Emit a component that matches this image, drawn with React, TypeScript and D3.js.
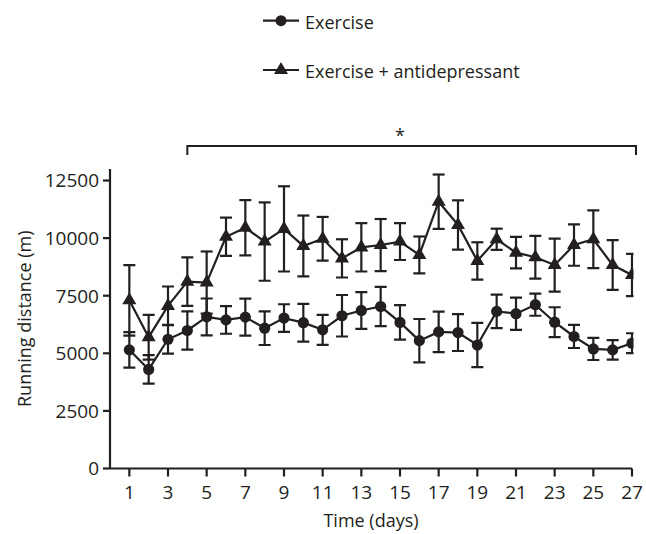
import React from "react";
import * as d3 from "d3";

const days = d3.range(1, 28);
const exerciseMean = [5150, 4300, 5610, 5990, 6580, 6450, 6570, 6090, 6530, 6330, 6020, 6630, 6860, 7030, 6340, 5550, 5930, 5900, 5360, 6820, 6720, 7110, 6350, 5730, 5190, 5150, 5440];
const exerciseErr = [770, 620, 620, 830, 800, 600, 800, 730, 600, 820, 650, 900, 800, 850, 750, 940, 880, 800, 960, 730, 700, 480, 650, 500, 480, 420, 430];
const comboMean = [7300, 5700, 7060, 8110, 8070, 10060, 10450, 9850, 10400, 9660, 9970, 9120, 9600, 9700, 9850, 9270, 11580, 10570, 9010, 9950, 9370, 9170, 8830, 9700, 9950, 8830, 8400];
const comboErr = [1530, 970, 840, 1050, 1350, 830, 1200, 1700, 1850, 1320, 950, 830, 1050, 1130, 800, 800, 1180, 1070, 810, 460, 680, 930, 1150, 900, 1250, 1080, 920];
const xTicks = [1, 3, 5, 7, 9, 11, 13, 15, 17, 19, 21, 23, 25, 27];
const yTicks = [0, 2500, 5000, 7500, 10000, 12500];
const legendLabels = ["Exercise", "Exercise + antidepressant"];
const sigStart = 4;
const sigEnd = 27;
const sigMid = 15;

const INK = "#231f20";
const FONT = "'Open Sans', 'Noto Sans', sans-serif";

export default function App() {
  const x = d3.scaleLinear().domain([0, 27]).range([110, 632]);
  const y = d3.scaleLinear().domain([0, 13000]).range([468.5, 169]);
  const line = d3
    .line<number>()
    .x((_, i) => x(days[i]))
    .y((d) => y(d));
  const tri = d3.symbol(d3.symbolTriangle, 85)();
  const capW = 6;

  const errBars = (means: number[], errs: number[], key: string) =>
    means.map((m, i) => {
      const cx = x(days[i]);
      const top = y(m + errs[i]);
      const bot = y(m - errs[i]);
      return (
        <g key={key + i} stroke={INK} strokeWidth={2.2}>
          <line x1={cx} x2={cx} y1={top} y2={bot} />
          <line x1={cx - capW} x2={cx + capW} y1={top} y2={top} />
          <line x1={cx - capW} x2={cx + capW} y1={bot} y2={bot} />
        </g>
      );
    });

  return (
    <svg
      width={646}
      height={534}
      style={{ position: "absolute", left: 0, top: 0, background: "#fff" }}
      fontFamily={FONT}
    >
      <rect width={646} height={534} fill="#fff" />
      <defs>
        <clipPath id="plotClip">
          <rect x={x(0)} y={0} width={x(27) - x(0) + 1.5} height={y(0)} />
        </clipPath>
      </defs>

      {/* Legend */}
      <g>
        <line x1={263} x2={299} y1={20.7} y2={20.7} stroke={INK} strokeWidth={2.2} />
        <circle cx={281} cy={20.7} r={5.5} fill={INK} />
        <text x={305} y={29} fontSize={18} fill={INK}>{legendLabels[0]}</text>
        <line x1={263} x2={299} y1={70} y2={70} stroke={INK} strokeWidth={2.2} />
        <path d={tri} transform={`translate(281,70)`} fill={INK} />
        <text x={305} y={77.5} fontSize={18} fill={INK}>{legendLabels[1]}</text>
      </g>

      {/* Significance bracket */}
      <path
        d={`M${x(sigStart)},155 V146 H${x(sigEnd) + 4} V155`}
        fill="none"
        stroke={INK}
        strokeWidth={2}
      />
      <text x={x(sigMid)} y={142} textAnchor="middle" fontSize={18} fill={INK}>*</text>

      {/* Y axis */}
      <line x1={x(0)} x2={x(0)} y1={y(13000)} y2={y(0)} stroke={INK} strokeWidth={2.2} />
      {yTicks.map((t) => (
        <g key={"yt" + t}>
          <line x1={x(0) - 7} x2={x(0)} y1={y(t)} y2={y(t)} stroke={INK} strokeWidth={2.2} />
          <text x={x(0) - 11} y={y(t)} dy="0.36em" textAnchor="end" fontSize={19} fill={INK}>
            {t}
          </text>
        </g>
      ))}
      <text
        transform={`translate(31,${(y(0) + y(13000)) / 2}) rotate(-90)`}
        textAnchor="middle"
        fontSize={18}
        fill={INK}
      >
        Running distance (m)
      </text>

      {/* X axis */}
      <line x1={x(0)} x2={x(27)} y1={y(0)} y2={y(0)} stroke={INK} strokeWidth={2.2} />
      {xTicks.map((t) => (
        <g key={"xt" + t}>
          <line x1={x(t)} x2={x(t)} y1={y(0)} y2={y(0) + 8} stroke={INK} strokeWidth={2.2} />
          <text x={x(t)} y={499} textAnchor="middle" fontSize={19} fill={INK}>
            {t}
          </text>
        </g>
      ))}
      <text x={(x(0) + x(27)) / 2} y={527} textAnchor="middle" fontSize={18} fill={INK}>
        Time (days)
      </text>

      {/* Data */}
      <g clipPath="url(#plotClip)">
        {errBars(exerciseMean, exerciseErr, "e")}
        {errBars(comboMean, comboErr, "c")}
        <path d={line(exerciseMean) || ""} fill="none" stroke={INK} strokeWidth={2.2} />
        <path d={line(comboMean) || ""} fill="none" stroke={INK} strokeWidth={2.2} />
        {exerciseMean.map((m, i) => (
          <circle key={"ec" + i} cx={x(days[i])} cy={y(m)} r={5.6} fill={INK} />
        ))}
        {comboMean.map((m, i) => (
          <path key={"ct" + i} d={tri} transform={`translate(${x(days[i])},${y(m)})`} fill={INK} />
        ))}
      </g>
    </svg>
  );
}
